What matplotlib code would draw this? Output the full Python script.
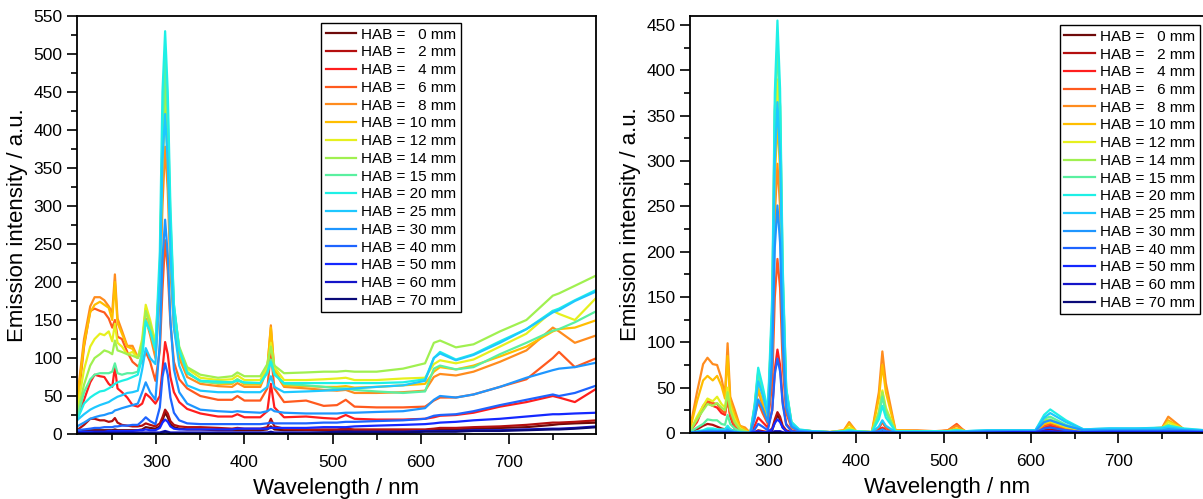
import numpy as np
import matplotlib.pyplot as plt
from matplotlib.ticker import MultipleLocator

plt.rcParams['font.family'] = ['Liberation Sans', 'DejaVu Sans']

wavelength = [210, 218, 225, 230, 236, 241, 246, 250, 253, 256,
              261, 267, 273, 279, 284, 288, 293, 299, 304, 307,
              310, 313, 316, 320, 326, 335, 350, 370, 386, 392,
              400, 418, 426, 430, 434, 445, 470, 490, 505, 515,
              525, 550, 580, 605, 615, 622, 640, 660, 690, 720,
              750, 757, 775, 800]

hab = [0, 2, 4, 6, 8, 10, 12, 14, 15, 20, 25, 30, 40, 50, 60, 70]
colors = ['#6e0a0a', '#b40f0f', '#ff1e1e', '#ff5a1e', '#ff8c1e', '#ffbe00',
          '#e6f01e', '#a0f050', '#5af0a0', '#1ef0e6', '#1ec8ff', '#1e96ff',
          '#1e64ff', '#1428ff', '#1414c8', '#0a0a78']

# ---- left panel ----
L00 = [3, 4, 5, 5, 5, 5, 5, 5, 6, 5,
       5, 5, 5, 5, 6, 9, 8, 7, 10, 18,
       28, 22, 13, 9, 7, 6, 6, 5, 5, 5,
       5, 5, 6, 10, 6, 5, 5, 5, 5, 5,
       5, 5, 5, 5, 6, 6, 6, 7, 8, 9,
       12, 13, 14, 15]
L02 = [5, 12, 20, 20, 18, 18, 16, 17, 21, 15,
       12, 11, 10, 10, 11, 14, 12, 10, 14, 22,
       32, 27, 17, 12, 10, 9, 9, 8, 7, 8,
       7, 7, 9, 20, 10, 7, 6, 6, 6, 7,
       6, 6, 6, 6, 7, 8, 8, 9, 10, 12,
       15, 15, 16, 18]
L04 = [20, 45, 68, 78, 76, 75, 66, 62, 88, 60,
       55, 48, 38, 36, 40, 53, 48, 40, 50, 85,
       121, 105, 75, 55, 42, 33, 27, 23, 23, 26,
       22, 22, 30, 66, 35, 22, 23, 21, 20, 25,
       20, 19, 19, 20, 22, 24, 25, 28, 36, 42,
       50, 48, 42, 60]
L06 = [30, 115, 162, 165, 162, 160, 152, 140, 150, 128,
       125, 108, 95, 89, 95, 108, 95, 70, 110, 190,
       255, 215, 145, 95, 72, 60, 50, 45, 45, 50,
       44, 44, 60, 108, 60, 42, 44, 37, 38, 45,
       36, 35, 35, 36, 44, 48, 48, 52, 62, 72,
       100, 108, 88, 100]
L08 = [45, 125, 168, 180, 180, 176, 168, 160, 210, 152,
       136, 116, 116, 101, 112, 152, 130, 100, 180, 300,
       378, 320, 215, 140, 100, 75, 66, 63, 62, 67,
       62, 62, 85, 143, 82, 62, 60, 58, 57, 58,
       54, 54, 55, 57, 75, 79, 77, 82, 95, 110,
       140, 135, 120, 130]
L10 = [40, 118, 160, 170, 174, 170, 166, 150, 200, 146,
       132, 115, 112, 100, 115, 165, 140, 110, 200, 350,
       430, 360, 245, 150, 105, 80, 70, 66, 66, 72,
       65, 65, 88, 140, 85, 64, 63, 62, 62, 63,
       61, 62, 64, 66, 82, 88, 85, 90, 102, 115,
       135, 138, 140, 150]
L12 = [30, 85, 115, 125, 132, 130, 135, 122, 145, 120,
       115, 105, 108, 100, 125, 170, 150, 120, 215, 380,
       462, 390, 265, 160, 112, 86, 74, 71, 72, 77,
       71, 71, 88, 120, 88, 71, 71, 72, 73, 74,
       71, 71, 73, 74, 92, 97, 93, 98, 115, 132,
       162, 158, 150, 180]
L14 = [25, 65, 90, 100, 105, 110, 108, 105, 123, 110,
       108, 105, 103, 100, 120, 162, 145, 115, 210, 390,
       465, 395, 270, 165, 115, 88, 78, 74, 76, 81,
       76, 76, 92, 115, 90, 80, 81, 82, 82, 83,
       82, 82, 86, 93, 120, 123, 114, 118, 135, 150,
       182, 185, 195, 209]
L15 = [20, 55, 72, 78, 80, 80, 80, 82, 93, 80,
       78, 80, 80, 82, 110, 150, 135, 112, 210, 400,
       500, 420, 285, 170, 112, 82, 69, 67, 68, 72,
       67, 67, 82, 98, 80, 66, 64, 62, 60, 60,
       58, 56, 54, 56, 86, 90, 85, 88, 105, 120,
       136, 138, 147, 162]
L20 = [18, 40, 48, 52, 56, 57, 60, 63, 66, 68,
       70, 72, 75, 78, 100, 148, 135, 110, 240, 450,
       530, 450, 300, 170, 110, 80, 70, 69, 68, 70,
       68, 67, 80, 95, 78, 67, 67, 67, 67, 67,
       67, 67, 68, 72, 100, 108, 98, 105, 122, 138,
       162, 165, 176, 190]
L25 = [18, 26, 32, 35, 38, 40, 42, 45, 47, 49,
       51, 54, 55, 57, 85, 113, 100, 92, 200, 360,
       421, 355, 240, 140, 90, 64, 57, 55, 55, 56,
       55, 55, 62, 76, 62, 55, 56, 57, 58, 59,
       60, 62, 64, 70, 100, 106, 97, 104, 120, 138,
       160, 163, 175, 188]
L30 = [10, 15, 20, 22, 24, 25, 27, 28, 31, 32,
       34, 36, 38, 40, 55, 68, 55, 45, 120, 230,
       282, 235, 150, 85, 55, 40, 32, 30, 29, 30,
       29, 28, 30, 33, 30, 28, 27, 27, 27, 28,
       28, 29, 30, 34, 45, 50, 48, 52, 62, 74,
       84, 86, 88, 94]
L40 = [5, 6, 7, 8, 8, 9, 9, 9, 10, 10,
       11, 11, 12, 12, 17, 22, 17, 13, 35, 75,
       93, 78, 48, 28, 18, 14, 13, 13, 13, 13,
       13, 13, 14, 15, 14, 14, 14, 15, 15, 16,
       16, 17, 18, 20, 24, 25, 26, 30, 38, 45,
       52, 50, 54, 64]
L50 = [2, 3, 3, 3, 3, 3, 4, 4, 4, 4,
       4, 4, 4, 5, 5, 6, 5, 5, 8, 15,
       19, 16, 10, 7, 6, 6, 6, 6, 6, 7,
       7, 7, 7, 8, 8, 8, 8, 9, 9, 9,
       10, 11, 12, 13, 14, 15, 16, 18, 20, 23,
       26, 26, 27, 28]
L60 = [1, 1, 1, 2, 2, 2, 2, 2, 2, 2,
       2, 2, 2, 2, 2, 2, 2, 2, 2, 3,
       4, 3, 2, 2, 2, 2, 2, 2, 2, 2,
       2, 2, 2, 3, 2, 2, 2, 2, 3, 3,
       3, 3, 3, 4, 4, 4, 4, 5, 5, 6,
       7, 7, 8, 10]
L70 = [1, 1, 1, 1, 1, 1, 1, 1, 1, 1,
       1, 1, 1, 1, 1, 1, 1, 1, 1, 2,
       3, 2, 1, 1, 1, 1, 1, 1, 1, 1,
       1, 1, 1, 2, 1, 1, 1, 2, 2, 2,
       2, 2, 2, 3, 3, 3, 3, 4, 4, 5,
       6, 6, 7, 9]

# ---- right panel ----
R00 = [0, 1, 2, 3, 3, 2, 2, 1, 2, 1,
       0, 0, 0, 0, 0, 1, 1, 0, 3, 12,
       20, 15, 6, 2, 0, 0, 0, 0, 0, 0,
       0, 0, 1, 4, 1, 0, 0, 0, 0, 0,
       0, 0, 0, 0, 1, 1, 0, 0, 0, 0,
       0, 1, 0, 0]
R02 = [1, 4, 8, 10, 9, 7, 5, 4, 7, 4,
       2, 0, 0, 0, 1, 3, 2, 1, 5, 15,
       23, 18, 8, 3, 1, 0, 0, 0, 0, 0,
       0, 0, 5, 13, 6, 0, 0, 0, 0, 0,
       0, 0, 0, 0, 3, 4, 2, 0, 0, 0,
       0, 1, 0, 0]
R04 = [2, 12, 28, 33, 30, 28, 22, 20, 40, 18,
       5, 1, 0, 0, 8, 17, 12, 6, 25, 70,
       92, 75, 35, 10, 3, 1, 0, 0, 0, 1,
       0, 0, 3, 6, 3, 0, 0, 0, 1, 3,
       0, 0, 0, 0, 6, 8, 4, 1, 1, 1,
       1, 2, 1, 1]
R06 = [2, 14, 30, 35, 33, 32, 25, 22, 35, 20,
       8, 2, 1, 0, 18, 34, 22, 10, 55, 150,
       192, 160, 75, 22, 6, 2, 1, 0, 1, 3,
       1, 0, 6, 12, 6, 1, 1, 1, 3, 10,
       1, 0, 1, 1, 8, 10, 5, 2, 2, 2,
       2, 5, 2, 2]
R08 = [5, 45, 76, 83, 76, 75, 60, 42, 99, 40,
       26, 8, 6, 0, 25, 47, 30, 14, 85, 240,
       297, 250, 120, 35, 8, 3, 2, 1, 3, 12,
       2, 1, 45, 90, 55, 3, 3, 2, 3, 8,
       2, 1, 2, 2, 10, 12, 6, 3, 4, 4,
       6, 18, 4, 2]
R10 = [4, 35, 58, 63, 58, 63, 52, 38, 85, 35,
       20, 8, 4, 0, 22, 50, 35, 16, 100, 280,
       345, 290, 140, 40, 10, 3, 2, 1, 3, 10,
       2, 1, 38, 75, 45, 3, 2, 2, 2, 5,
       2, 1, 2, 2, 10, 12, 6, 3, 4, 4,
       5, 14, 4, 2]
R12 = [2, 18, 30, 38, 35, 40, 32, 28, 50, 30,
       15, 5, 2, 0, 30, 66, 45, 20, 120, 320,
       390, 330, 160, 45, 10, 3, 2, 1, 2, 6,
       2, 1, 24, 47, 28, 2, 2, 2, 2, 4,
       2, 2, 3, 2, 12, 13, 7, 3, 4, 4,
       5, 12, 4, 2]
R14 = [2, 15, 25, 32, 30, 33, 28, 25, 45, 25,
       12, 4, 2, 0, 30, 68, 48, 22, 135, 355,
       430, 360, 175, 48, 12, 3, 2, 1, 2, 4,
       2, 1, 22, 45, 26, 2, 2, 2, 2, 3,
       2, 2, 3, 2, 14, 15, 8, 3, 4, 4,
       5, 9, 4, 2]
R15 = [1, 6, 10, 15, 14, 14, 10, 9, 20, 10,
       5, 2, 1, 0, 28, 64, 46, 22, 135, 355,
       430, 360, 175, 48, 12, 3, 2, 1, 2, 3,
       2, 1, 20, 40, 22, 2, 2, 2, 2, 3,
       2, 2, 3, 2, 16, 18, 9, 3, 4, 4,
       5, 7, 4, 2]
R20 = [0, 2, 3, 5, 5, 4, 4, 4, 8, 4,
       2, 1, 0, 0, 32, 72, 52, 25, 150, 375,
       455, 380, 185, 50, 12, 4, 2, 1, 2, 3,
       2, 1, 15, 30, 17, 2, 2, 2, 2, 3,
       2, 3, 3, 3, 20, 26, 14, 4, 5, 5,
       6, 8, 5, 3]
R25 = [0, 1, 2, 3, 3, 3, 3, 3, 5, 3,
       1, 0, 0, 0, 25, 57, 42, 20, 120, 300,
       365, 305, 150, 42, 10, 3, 2, 1, 1, 2,
       1, 1, 7, 14, 8, 1, 1, 1, 1, 2,
       2, 3, 3, 3, 17, 22, 12, 4, 5, 5,
       5, 6, 4, 3]
R30 = [0, 1, 2, 2, 2, 2, 2, 2, 3, 2,
       1, 0, 0, 0, 16, 37, 27, 12, 80, 205,
       251, 210, 100, 28, 7, 2, 1, 1, 1, 1,
       1, 1, 2, 4, 2, 1, 1, 1, 1, 1,
       1, 2, 2, 2, 12, 14, 8, 3, 3, 3,
       3, 4, 3, 2]
R40 = [0, 0, 1, 1, 1, 1, 1, 1, 1, 1,
       0, 0, 0, 0, 4, 10, 7, 3, 25, 65,
       82, 68, 32, 9, 2, 1, 0, 0, 0, 0,
       0, 0, 1, 1, 1, 0, 0, 0, 0, 0,
       0, 1, 1, 1, 5, 6, 3, 1, 2, 2,
       2, 2, 2, 1]
R50 = [0, 0, 0, 0, 0, 0, 0, 0, 0, 0,
       0, 0, 0, 0, 1, 2, 1, 1, 4, 11,
       15, 12, 6, 2, 0, 0, 0, 0, 0, 0,
       0, 0, 0, 0, 0, 0, 0, 0, 0, 0,
       0, 0, 1, 1, 2, 2, 1, 1, 1, 1,
       1, 1, 1, 1]
R60 = [0, 0, 0, 0, 0, 0, 0, 0, 0, 0,
       0, 0, 0, 0, 0, 1, 0, 0, 1, 2,
       2, 2, 1, 0, 0, 0, 0, 0, 0, 0,
       0, 0, 0, 0, 0, 0, 0, 0, 0, 0,
       0, 0, 0, 0, 1, 1, 0, 0, 0, 0,
       0, 0, 0, 0]
R70 = [0, 0, 0, 0, 0, 0, 0, 0, 0, 0,
       0, 0, 0, 0, 0, 0, 0, 0, 0, 1,
       1, 1, 0, 0, 0, 0, 0, 0, 0, 0,
       0, 0, 0, 0, 0, 0, 0, 0, 0, 0,
       0, 0, 0, 0, 0, 0, 0, 0, 0, 0,
       0, 0, 0, 0]

left = [L00, L02, L04, L06, L08, L10, L12, L14, L15, L20, L25, L30, L40, L50, L60, L70]
right = [R00, R02, R04, R06, R08, R10, R12, R14, R15, R20, R25, R30, R40, R50, R60, R70]
assert all(len(s) == len(wavelength) for s in left + right)

fig = plt.figure(figsize=(12.03, 4.99), dpi=100)
ax1 = fig.add_axes([77/1203, 65/499, 519/1203, 418/499])
ax2 = fig.add_axes([690/1203, 66/499, 515/1203, 417/499])

panels = [(ax1, left, 550, (0.47, 0.983)), (ax2, right, 460, (0.718, 0.978))]
for ax, spectra, ytop, anchor in panels:
    for h, c, s in zip(hab, colors, spectra):
        lab = 'HAB = ' + ('  ' if h < 10 else '') + str(h) + ' mm'
        ax.plot(wavelength, s, color=c, lw=1.6, label=lab)
    ax.set_xlim(210, 799)
    ax.set_ylim(0, ytop)
    ax.xaxis.set_major_locator(MultipleLocator(100))
    ax.xaxis.set_minor_locator(MultipleLocator(50))
    ax.yaxis.set_major_locator(MultipleLocator(50))
    ax.yaxis.set_minor_locator(MultipleLocator(25))
    ax.tick_params(which='major', direction='out', length=7, width=1.2, labelsize=12.5)
    ax.tick_params(which='minor', direction='out', length=4, width=1.2)
    ax.tick_params(axis='x', which='major', pad=8)
    for sp in ax.spines.values():
        sp.set_linewidth(1.3)
    ax.set_xlabel('Wavelength / nm', fontsize=16, labelpad=6)
    ax.set_ylabel('Emission intensity / a.u.', fontsize=16)
    leg = ax.legend(loc='upper left', bbox_to_anchor=anchor, fontsize=11,
                    fancybox=False, edgecolor='black', framealpha=1,
                    borderpad=0.3, labelspacing=0.245, handlelength=2.0,
                    handletextpad=0.35, borderaxespad=0)
    leg.get_frame().set_linewidth(1.0)

plt.savefig('out.png', dpi=100)
